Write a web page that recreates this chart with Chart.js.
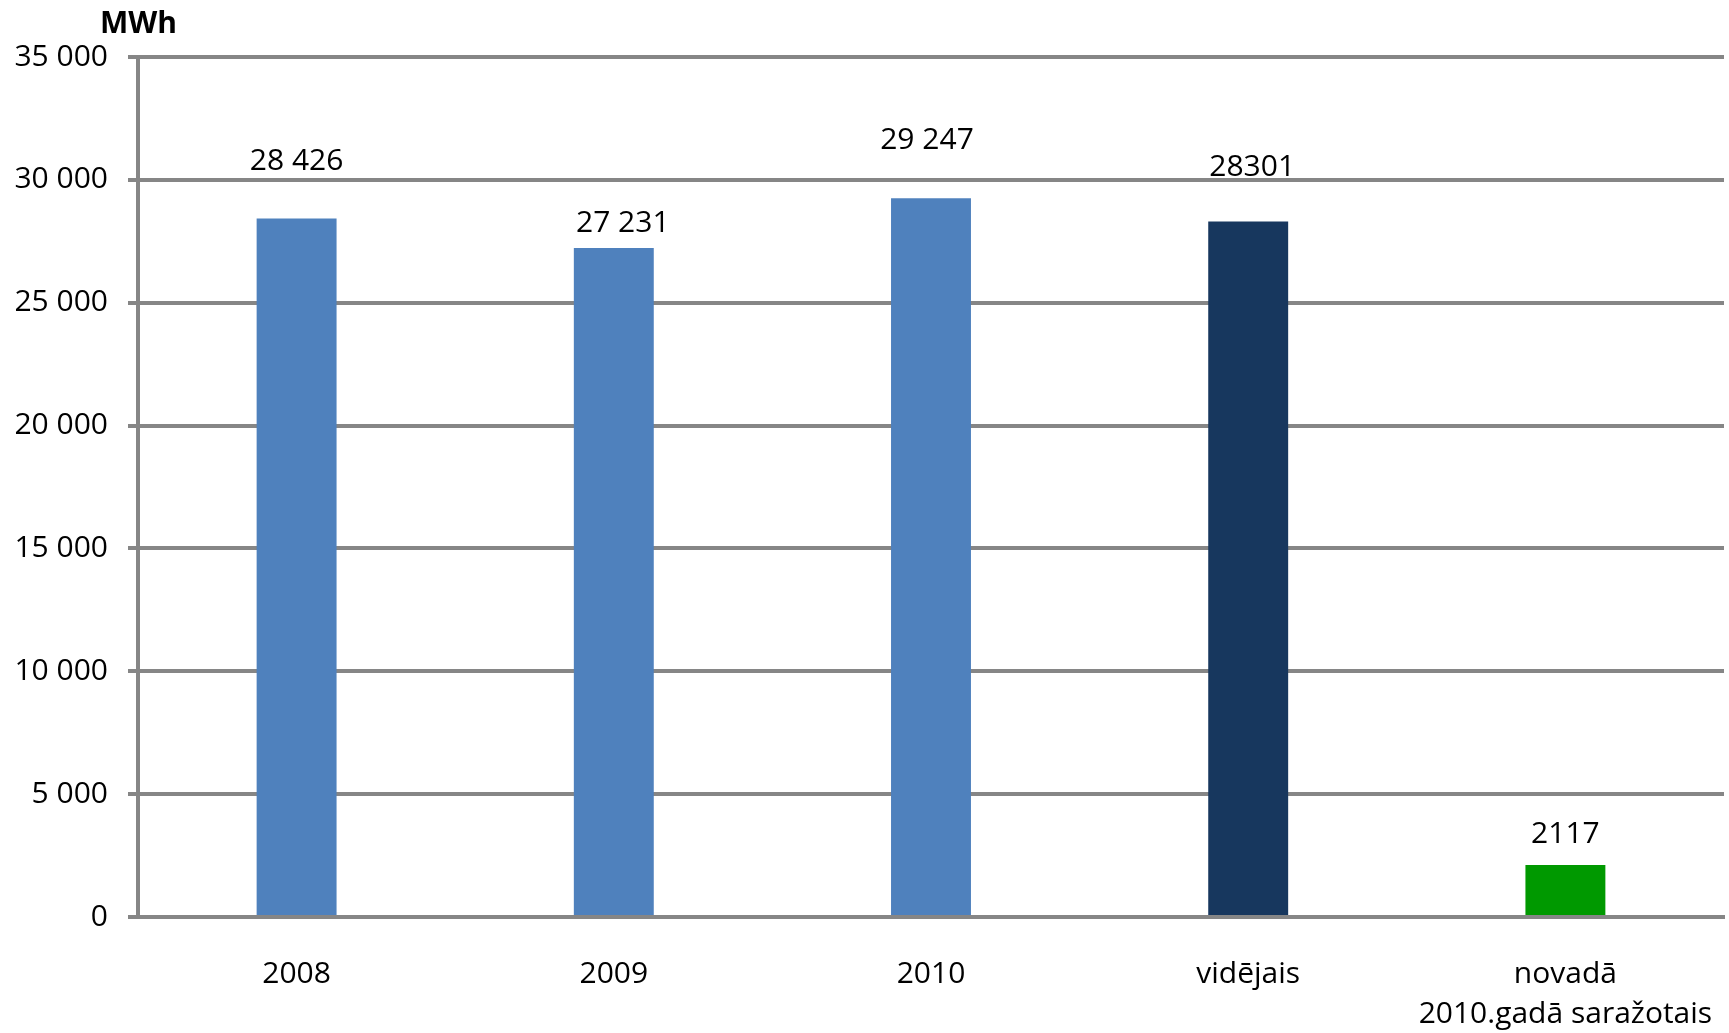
<!DOCTYPE html>
<html>
<head>
<meta charset="utf-8">
<script src="https://cdn.jsdelivr.net/npm/chart.js@4.4.1/dist/chart.umd.min.js"></script>
<style>
  html, body { margin: 0; padding: 0; background: #fff; overflow: hidden; }
  #wrap { width: 1729px; height: 1033px; position: relative; }
</style>
</head>
<body>
<div id="wrap"><canvas id="myChart"></canvas></div>
<script>
// categories and values
var categories = ['2008', '2009', '2010', 'vidējais', ['novadā', '2010.gadā saražotais']];
var values = [28426, 27231, 29247, 28301, 2117];
var valueLabels = ['28 426', '27 231', '29 247', '28301', '2117'];
var yTicks = [0, 5000, 10000, 15000, 20000, 25000, 30000, 35000];
var unitLabel = 'MWh';

// styling
var barColors = ['#4F81BD', '#4F81BD', '#4F81BD', '#17375E', '#009900'];
var labelLift = [57, 24, 58, 54, 31];
var labelShift = [0, 9, -4, 4, 0];
var gridColor = '#868686';
var font = '"Open Sans", "DejaVu Sans", sans-serif';

Chart.defaults.font.family = font;
Chart.defaults.color = '#000';

function fmt(v) {
    return String(v).replace(/\B(?=(\d{3})+(?!\d))/g, ' ');
}

var valueLabelPlugin = {
    id: 'valueLabels',
    afterDatasetsDraw: function(chart) {
        var ctx = chart.ctx;
        var meta = chart.getDatasetMeta(0);
        ctx.save();
        ctx.font = '30px ' + font;
        ctx.fillStyle = '#000';
        ctx.textAlign = 'center';
        ctx.textBaseline = 'middle';
        meta.data.forEach(function(bar, i) {
            ctx.fillText(valueLabels[i], bar.x + labelShift[i], bar.y - labelLift[i]);
        });
        // unit above the value axis
        ctx.font = 'bold 30px ' + font;
        ctx.textAlign = 'left';
        ctx.fillText(unitLabel, chart.chartArea.left - 38, chart.chartArea.top - 33);
        ctx.restore();
    }
};

var ctx = document.getElementById('myChart').getContext('2d');

var myChart = new Chart(ctx, {
    type: 'bar',
    data: {
        labels: categories,
        datasets: [{
            data: values,
            backgroundColor: barColors,
            borderWidth: 0,
            categoryPercentage: 1,
            barPercentage: 0.252
        }]
    },
    options: {
        responsive: true,
        maintainAspectRatio: false,
        animation: false,
        layout: {
            padding: { top: 57, right: 5, left: 0, bottom: 0 }
        },
        plugins: {
            legend: { display: false },
            tooltip: { enabled: false }
        },
        scales: {
            x: {
                grid: { display: false, drawTicks: false },
                border: { display: true, color: gridColor, width: 4 },
                ticks: {
                    font: { size: 30, lineHeight: 1.33 },
                    padding: 38,
                    maxRotation: 0,
                    autoSkip: false
                },
                afterFit: function(scale) {
                    scale.height = 116;
                    scale.paddingLeft = 0;
                    scale.paddingRight = 0;
                }
            },
            y: {
                min: 0,
                max: 35000,
                afterBuildTicks: function(scale) {
                    scale.ticks = yTicks.map(function(v) { return { value: v }; });
                },
                grid: {
                    color: gridColor,
                    lineWidth: 4,
                    tickLength: 10,
                    drawTicks: true
                },
                border: { display: true, color: gridColor, width: 4 },
                ticks: {
                    font: { size: 30 },
                    padding: 20,
                    callback: function(v) { return fmt(v); }
                },
                afterFit: function(scale) { scale.width = 138; }
            }
        }
    },
    plugins: [valueLabelPlugin]
});
</script>
</body>
</html>
